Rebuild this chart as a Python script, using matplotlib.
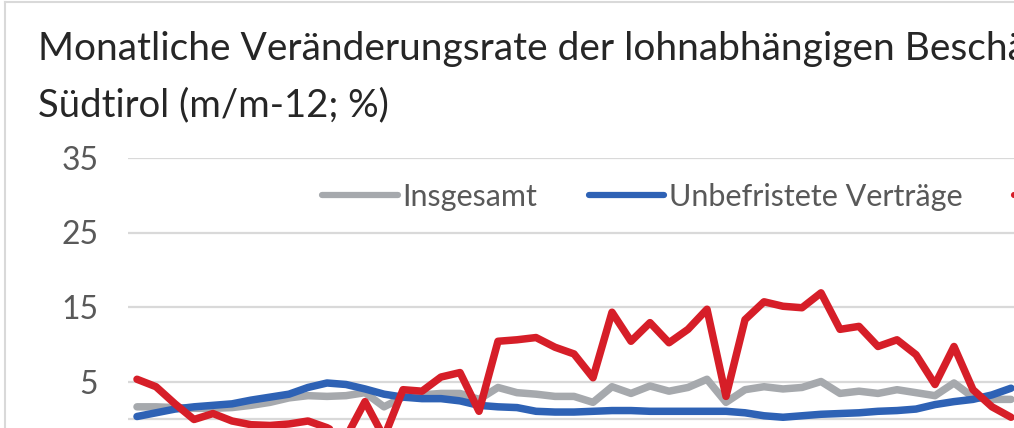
import matplotlib.pyplot as plt
from matplotlib.lines import Line2D

# monthly change rate (m/m-12, %)
insgesamt = [1.6, 1.6, 1.5, 1.4, 1.4, 1.5, 1.8, 2.2, 2.8, 3.1, 3.0, 3.1, 3.5, 1.6,
             2.9, 3.2, 3.4, 3.4, 2.6, 4.2, 3.5, 3.3, 3.0, 3.0, 2.2, 4.3, 3.4, 4.4,
             3.7, 4.2, 5.3, 2.2, 3.9, 4.3, 4.0, 4.2, 5.0, 3.4, 3.7, 3.4, 3.9, 3.5,
             3.1, 4.8, 2.9, 2.6, 2.6]
unbefristet = [0.3, 0.8, 1.3, 1.6, 1.8, 2.0, 2.5, 2.9, 3.3, 4.2, 4.8, 4.6, 4.0, 3.3,
               2.9, 2.7, 2.7, 2.4, 1.8, 1.6, 1.5, 1.0, 0.9, 0.9, 1.0, 1.1, 1.1, 1.0,
               1.0, 1.0, 1.0, 1.0, 0.8, 0.4, 0.2, 0.4, 0.6, 0.7, 0.8, 1.0, 1.1, 1.3,
               1.9, 2.3, 2.6, 3.2, 4.1]
befristet = [5.3, 4.3, 2.0, -0.1, 0.7, -0.3, -0.8, -0.9, -0.7, -0.3, -1.2, -2.5, 2.3, -2.5,
             3.9, 3.7, 5.6, 6.2, 1.0, 10.4, 10.6, 10.9, 9.6, 8.7, 5.5, 14.3, 10.4, 12.9,
             10.2, 12.0, 14.7, 3.0, 13.3, 15.7, 15.1, 14.9, 16.9, 12.0, 12.4, 9.7, 10.6, 8.6,
             4.6, 9.7, 3.9, 1.6, 0.2]
labels = ["Insgesamt", "Unbefristete Verträge", "Befristete Verträge"]
yticks = [-5, 5, 15, 25, 35]

W, H = 1014, 428
FONT = "Lato"
TXT = "#595959"
GRID = "#d9d9d9"

fig = plt.figure(figsize=(W / 100, H / 100), dpi=100)

# chart area border (only left and top edge are visible in the crop)
fig.add_artist(Line2D([4.5 / W, 4.5 / W], [0, 1 - 2 / H], color=GRID, lw=1.5))
fig.add_artist(Line2D([4.5 / W, 1], [1 - 2 / H, 1 - 2 / H], color=GRID, lw=1.5))

fig.text(38 / W, 1 - 60 / H, "Monatliche Veränderungsrate der lohnabhängigen Beschäftigten in",
         fontsize=28, family=FONT, color="#262626", va="baseline")
fig.text(38 / W, 1 - 116 / H, "Südtirol (m/m-12; %)",
         fontsize=27.5, family=FONT, color="#262626", va="baseline")

# plot area runs past the bottom and right edge of the picture
left, right, top, bottom = 127.5, 1039.5, 158, 456
ax = fig.add_axes([left / W, (H - bottom) / H, (right - left) / W, (bottom - top) / H])

x = list(range(len(befristet)))
lw = 5.4
ax.plot(x, insgesamt, color="#a6a9ad", lw=lw, solid_joinstyle="round",
        solid_capstyle="round", label=labels[0], zorder=3)
ax.plot(x, unbefristet, color="#2e62b5", lw=lw, solid_joinstyle="round",
        solid_capstyle="round", label=labels[1], zorder=4)
ax.plot(x, befristet, color="#d61e28", lw=lw, solid_joinstyle="round",
        solid_capstyle="round", label=labels[2], zorder=5)

ax.set_xlim(-0.5, 47.5)
ax.set_ylim(-5, 35)
ax.set_yticks(yticks)
ax.set_yticklabels([str(t) for t in yticks])
ax.set_xticks([])
ax.grid(axis="y", color=GRID, lw=1.6)
ax.axhline(0, color=GRID, lw=1.6, zorder=1)
ax.set_axisbelow(True)
for s in ax.spines.values():
    s.set_visible(False)
ax.tick_params(axis="y", length=0, pad=21, labelsize=23, labelcolor=TXT)
for t in ax.get_yticklabels():
    t.set_family(FONT)

leg = ax.legend(loc="center left", bbox_to_anchor=((322 - left) / (right - left), (bottom - 197) / (bottom - top)),
                ncol=3, frameon=False, borderpad=0, borderaxespad=0, handlelength=2.48,
                handletextpad=0.16, columnspacing=1.67, prop={"family": FONT, "size": 22})
for t in leg.get_texts():
    t.set_color(TXT)
for h in leg.get_lines():
    h.set_linewidth(4.5)

fig.savefig("out.png", dpi=100)
